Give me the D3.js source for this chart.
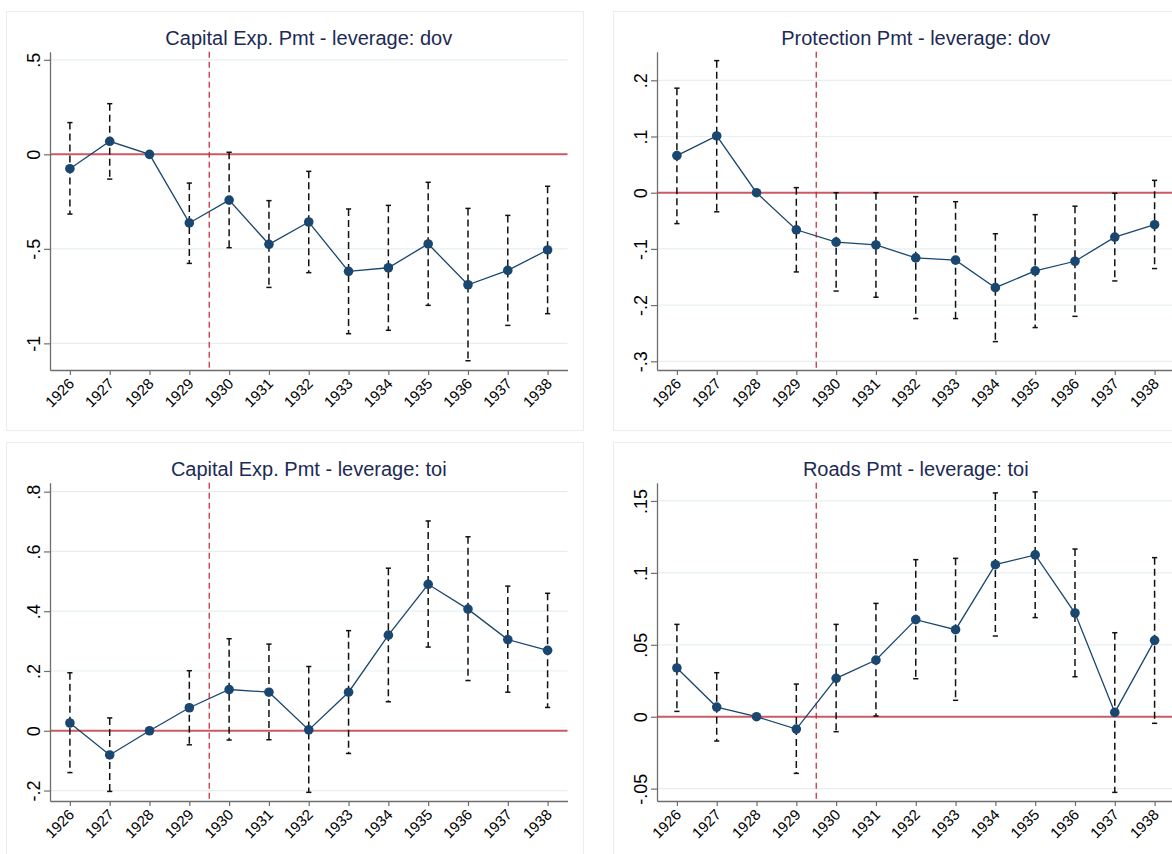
<!DOCTYPE html>
<html>
<head>
<meta charset="utf-8">
<script src="https://cdn.jsdelivr.net/npm/d3@7"></script>
<style>
  body { margin: 0; background: #fff; }
  svg { font-family: "Liberation Sans", Arial, Helvetica, sans-serif; }
</style>
</head>
<body>
<div id="chart"></div>
<script>
let years = [1926, 1927, 1928, 1929, 1930, 1931, 1932, 1933, 1934, 1935, 1936, 1937, 1938];

// Capital Exp. Pmt - leverage: dov
let capDovEst = [-0.076, 0.069, 0, -0.363, -0.242, -0.476, -0.358, -0.619, -0.600, -0.474, -0.690, -0.614, -0.506];
let capDovLo  = [-0.316, -0.131, null, -0.577, -0.494, -0.704, -0.626, -0.949, -0.931, -0.799, -1.092, -0.905, -0.843];
let capDovHi  = [0.168, 0.268, null, -0.152, 0.011, -0.245, -0.090, -0.289, -0.270, -0.148, -0.286, -0.323, -0.169];
let capDovTicks = [0.5, 0, -0.5, -1];
let capDovTickLabels = ['.5', '0', '-.5', '-1'];
let capDovRange = [-1.141, 0.543];

// Protection Pmt - leverage: dov
let protDovEst = [0.066, 0.101, 0, -0.066, -0.088, -0.093, -0.116, -0.120, -0.169, -0.139, -0.122, -0.079, -0.057];
let protDovLo  = [-0.055, -0.034, null, -0.141, -0.175, -0.186, -0.224, -0.224, -0.265, -0.240, -0.220, -0.157, -0.135];
let protDovHi  = [0.186, 0.235, null, 0.009, 0.000, 0.000, -0.007, -0.016, -0.073, -0.039, -0.024, -0.001, 0.022];
let protDovTicks = [0.2, 0.1, 0, -0.1, -0.2, -0.3];
let protDovTickLabels = ['.2', '.1', '0', '-.1', '-.2', '-.3'];
let protDovRange = [-0.3155, 0.2509];

// Capital Exp. Pmt - leverage: toi
let capToiEst = [0.026, -0.081, 0, 0.077, 0.138, 0.129, 0.003, 0.129, 0.320, 0.490, 0.407, 0.305, 0.269];
let capToiLo  = [-0.140, -0.203, null, -0.047, -0.031, -0.030, -0.206, -0.076, 0.097, 0.280, 0.168, 0.129, 0.078];
let capToiHi  = [0.194, 0.043, null, 0.201, 0.308, 0.290, 0.215, 0.335, 0.544, 0.702, 0.649, 0.484, 0.460];
let capToiTicks = [0.8, 0.6, 0.4, 0.2, 0, -0.2];
let capToiTickLabels = ['.8', '.6', '.4', '.2', '0', '-.2'];
let capToiRange = [-0.235, 0.830];

// Roads Pmt - leverage: toi
let roadToiEst = [0.0339, 0.0067, 0, -0.0086, 0.0267, 0.0394, 0.0675, 0.0605, 0.1057, 0.1125, 0.0721, 0.0030, 0.0531];
let roadToiLo  = [0.0037, -0.0169, null, -0.0394, -0.0104, 0.0005, 0.0264, 0.0114, 0.0561, 0.0689, 0.0278, -0.0526, -0.0046];
let roadToiHi  = [0.0642, 0.0306, null, 0.0227, 0.0642, 0.0788, 0.1092, 0.1101, 0.1556, 0.1563, 0.1166, 0.0584, 0.1106];
let roadToiTicks = [0.15, 0.1, 0.05, 0, -0.05];
let roadToiTickLabels = ['.15', '.1', '.05', '0', '-.05'];
let roadToiRange = [-0.0586, 0.1627];

let panels = [
  { title: 'Capital Exp. Pmt - leverage: dov', est: capDovEst, lo: capDovLo, hi: capDovHi, ticks: capDovTicks, labels: capDovTickLabels, range: capDovRange, col: 0, row: 0 },
  { title: 'Protection Pmt - leverage: dov', est: protDovEst, lo: protDovLo, hi: protDovHi, ticks: protDovTicks, labels: protDovTickLabels, range: protDovRange, col: 1, row: 0 },
  { title: 'Capital Exp. Pmt - leverage: toi', est: capToiEst, lo: capToiLo, hi: capToiHi, ticks: capToiTicks, labels: capToiTickLabels, range: capToiRange, col: 0, row: 1 },
  { title: 'Roads Pmt - leverage: toi', est: roadToiEst, lo: roadToiLo, hi: roadToiHi, ticks: roadToiTicks, labels: roadToiTickLabels, range: roadToiRange, col: 1, row: 1 }
];

let width = 1172, height = 854;
let colX = [0, 607], rowY = [0, 431];
let plot = { left: 50, right: 567.5, top: 51.7, bottom: 370 };

let navy = '#1a476f';

let svg = d3.select('#chart').append('svg')
  .attr('width', width)
  .attr('height', height)
  .style('background', '#fff');

panels.forEach(p => {
  let g = svg.append('g')
    .attr('transform', `translate(${colX[p.col]}, ${rowY[p.row]})`);

  // graph region border
  g.append('rect')
    .attr('x', 6.5).attr('y', 11.5)
    .attr('width', 577).attr('height', 419)
    .attr('fill', '#fff')
    .attr('stroke', '#ececec');

  let x = d3.scaleLinear()
    .domain([1925.5, 1938.5])
    .range([plot.left, plot.right]);

  let y = d3.scaleLinear()
    .domain(p.range)
    .range([plot.bottom, plot.top]);

  // grid
  g.append('g').selectAll('line')
    .data(p.ticks)
    .enter().append('line')
    .attr('x1', plot.left).attr('x2', plot.right)
    .attr('y1', d => y(d)).attr('y2', d => y(d))
    .attr('stroke', '#e6eff0')
    .attr('stroke-width', 1.2);

  // zero line
  g.append('line')
    .attr('x1', plot.left).attr('x2', plot.right)
    .attr('y1', y(0)).attr('y2', y(0))
    .attr('stroke', '#cc5a66')
    .attr('stroke-width', 2);

  // 1929/1930 break
  g.append('line')
    .attr('x1', x(1929.5)).attr('x2', x(1929.5))
    .attr('y1', plot.top).attr('y2', plot.bottom)
    .attr('stroke', '#c8202e')
    .attr('stroke-width', 1.2)
    .attr('stroke-dasharray', '6,4');

  let ci = years.map((yr, i) => ({ yr: yr, lo: p.lo[i], hi: p.hi[i] }))
    .filter(d => d.lo !== null);

  // confidence intervals
  let cg = g.append('g').attr('stroke', '#111').attr('stroke-width', 1.5);
  cg.selectAll('.ci').data(ci).enter().append('line')
    .attr('class', 'ci')
    .attr('x1', d => x(d.yr)).attr('x2', d => x(d.yr))
    .attr('y1', d => y(d.hi)).attr('y2', d => y(d.lo))
    .attr('stroke-dasharray', '7,4');
  cg.selectAll('.caphi').data(ci).enter().append('line')
    .attr('class', 'caphi')
    .attr('x1', d => x(d.yr) - 2.6).attr('x2', d => x(d.yr) + 2.6)
    .attr('y1', d => y(d.hi)).attr('y2', d => y(d.hi));
  cg.selectAll('.caplo').data(ci).enter().append('line')
    .attr('class', 'caplo')
    .attr('x1', d => x(d.yr) - 2.6).attr('x2', d => x(d.yr) + 2.6)
    .attr('y1', d => y(d.lo)).attr('y2', d => y(d.lo));

  // point estimates
  let pts = years.map((yr, i) => ({ yr: yr, v: p.est[i] }));
  g.append('path')
    .datum(pts)
    .attr('fill', 'none')
    .attr('stroke', navy)
    .attr('stroke-width', 1.3)
    .attr('d', d3.line().x(d => x(d.yr)).y(d => y(d.v)));
  g.selectAll('circle')
    .data(pts)
    .enter().append('circle')
    .attr('cx', d => x(d.yr))
    .attr('cy', d => y(d.v))
    .attr('r', 4.8)
    .attr('fill', navy);

  // axes
  let yAxis = d3.axisLeft(y)
    .tickValues(p.ticks)
    .tickFormat((d, i) => p.labels[i])
    .tickSize(6)
    .tickSizeOuter(0);
  let xAxis = d3.axisBottom(x)
    .tickValues(years)
    .tickFormat(d3.format('d'))
    .tickSize(5)
    .tickSizeOuter(0);

  let ya = g.append('g')
    .attr('transform', `translate(${plot.left}, 0)`)
    .call(yAxis);
  ya.selectAll('text')
    .attr('transform', 'rotate(-90)')
    .attr('x', 0).attr('y', -10).attr('dy', 0)
    .attr('text-anchor', 'middle')
    .style('font-size', '18px')
    .attr('fill', '#000');

  let xa = g.append('g')
    .attr('transform', `translate(0, ${plot.bottom})`)
    .call(xAxis);
  xa.selectAll('text')
    .attr('x', 0).attr('y', 0).attr('dy', '0.35em')
    .attr('transform', 'translate(1, 11) rotate(-45)')
    .attr('text-anchor', 'end')
    .style('font-size', '15px')
    .attr('fill', '#000');

  [ya, xa].forEach(a => {
    a.select('.domain').attr('stroke', '#6e6e6e').attr('stroke-width', 1.3);
    a.selectAll('.tick line').attr('stroke', '#6e6e6e').attr('stroke-width', 1.2);
  });

  // title
  g.append('text')
    .attr('x', (plot.left + plot.right) / 2)
    .attr('y', 45)
    .attr('text-anchor', 'middle')
    .style('font-size', '20px')
    .attr('fill', '#1c2a55')
    .text(p.title);
});
</script>
</body>
</html>
